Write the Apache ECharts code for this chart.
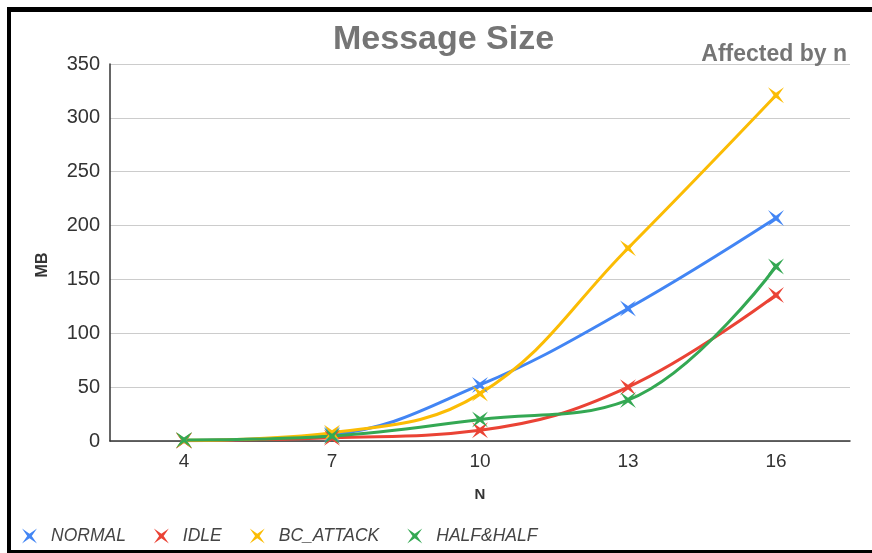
<!DOCTYPE html>
<html>
<head>
<meta charset="utf-8">
<script src="https://cdn.jsdelivr.net/npm/echarts@6/dist/echarts.min.js"></script>
<style>
  html, body { margin: 0; padding: 0; background: #fff; }
  #chart { width: 872px; height: 553px; }
</style>
</head>
<body>
<div id="chart"></div>
<script>
// chart data
const categories = ['4', '7', '10', '13', '16'];
const normal = [0.5, 6, 52, 123, 207];
const idle = [0.3, 3, 10, 50, 135.5];
const bcAttack = [0.6, 7.7, 44, 179, 321];
const halfHalf = [1, 4.6, 20, 38, 162];
const yTicks = [0, 50, 100, 150, 200, 250, 300, 350];

const seriesNames = ['NORMAL', 'IDLE', 'BC_ATTACK', 'HALF&HALF'];
const seriesData = [normal, idle, bcAttack, halfHalf];
const colors = ['#4285F4', '#EA4335', '#FBBC04', '#34A853'];

// X shaped marker like the sheets chart
const xMark = 'path://M-10,-10 L0,-3 L10,-10 L3,0 L10,10 L0,3 L-10,10 L-3,0 Z';

const font = 'Liberation Sans, Arial, sans-serif';

const chart = echarts.init(document.getElementById('chart'));

const option = {
  backgroundColor: '#fff',
  animation: false,
  textStyle: { fontFamily: font },
  title: [
    {
      text: 'Message Size',
      left: 328,
      top: 18,
      textStyle: { fontSize: 34, fontWeight: 'bold', color: '#757575', fontFamily: font },
    },
    {
      text: 'Affected by n',
      right: 20,
      top: 38,
      textStyle: { fontSize: 23, fontWeight: 'bold', color: '#757575', fontFamily: font },
    },
  ],
  graphic: [
    { type: 'rect', shape: { x: 7, y: 7, width: 865, height: 5 }, style: { fill: '#000' } },
    { type: 'rect', shape: { x: 7, y: 7, width: 4, height: 546 }, style: { fill: '#000' } },
    { type: 'rect', shape: { x: 7, y: 550, width: 865, height: 3 }, style: { fill: '#000' } },
    {
      type: 'text',
      x: 43,
      y: 265,
      rotation: Math.PI / 2,
      style: {
        text: 'MB',
        fontSize: 16,
        fontWeight: 'bold',
        fill: '#333',
        fontFamily: font,
        align: 'center',
        verticalAlign: 'middle',
      },
    },
  ],
  legend: {
    left: 17,
    bottom: 3,
    itemWidth: 15,
    itemHeight: 15,
    itemGap: 28,
    icon: xMark,
    data: seriesNames,
    textStyle: {
      fontSize: 17.5,
      fontStyle: 'italic',
      color: '#444',
      fontFamily: font,
      padding: [0, 0, 0, 9],
    },
  },
  grid: {
    left: 110,
    right: 22,
    top: 64,
    bottom: 112,
    containLabel: false,
  },
  xAxis: {
    type: 'category',
    data: categories,
    boundaryGap: true,
    name: 'N',
    nameLocation: 'middle',
    nameGap: 46,
    nameTextStyle: { fontSize: 15, fontWeight: 'bold', color: '#333' },
    axisLine: { lineStyle: { color: '#333', width: 1.5 } },
    axisTick: { show: false },
    axisLabel: { fontSize: 19, color: '#333', margin: 11 },
    splitLine: { show: false },
  },
  yAxis: {
    type: 'value',
    min: yTicks[0],
    max: yTicks[yTicks.length - 1],
    interval: 50,
    axisLine: { show: true, lineStyle: { color: '#333', width: 1.5 } },
    axisTick: { show: false },
    axisLabel: { fontSize: 20, color: '#333', margin: 10 },
    splitLine: { lineStyle: { color: '#ccc', width: 1 } },
  },
  series: seriesNames.map((name, i) => ({
    name: name,
    type: 'line',
    data: seriesData[i],
    smooth: 0.4,
    symbol: xMark,
    symbolSize: 16,
    itemStyle: { color: colors[i] },
    lineStyle: { color: colors[i], width: 3 },
  })),
};

chart.setOption(option);
</script>
</body>
</html>
